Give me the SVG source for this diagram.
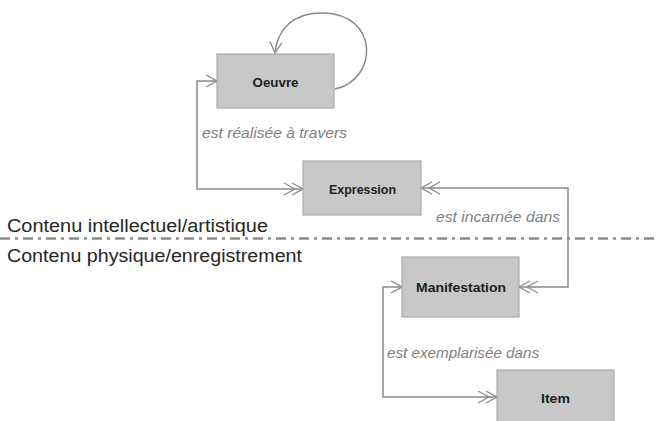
<svg xmlns="http://www.w3.org/2000/svg" width="658" height="421" viewBox="0 0 658 421">
<style>
.box{fill:#c8c8c8;stroke:#ababab;stroke-width:1.2}
.nt{font-family:"Liberation Sans",Arial,sans-serif;font-weight:bold;font-size:13.5px;fill:#1e1e1e;text-anchor:middle}
.lbl{font-family:"Liberation Sans",Arial,sans-serif;font-style:italic;font-size:15.5px;fill:#808080}
.sec{font-family:"Liberation Sans",Arial,sans-serif;font-size:18px;fill:#262626}
.con{fill:none;stroke:#8a8a8a;stroke-width:1.5}
</style>
<defs>
<marker id="a1" markerUnits="userSpaceOnUse" viewBox="-1 -1 13 14" refX="11" refY="6" markerWidth="13" markerHeight="14" orient="auto-start-reverse">
<path d="M0,0 L11,6 L0,12" fill="none" stroke="#8a8a8a" stroke-width="1.3"/>
</marker>
<marker id="a2" markerUnits="userSpaceOnUse" viewBox="-1 -1 21 14" refX="19" refY="6" markerWidth="21" markerHeight="14" orient="auto-start-reverse">
<path d="M0,0 L11,6 L0,12 M8,0 L19,6 L8,12" fill="none" stroke="#8a8a8a" stroke-width="1.3"/>
</marker>
</defs>
<line x1="0" y1="238.5" x2="658" y2="238.5" stroke="#8a8a8a" stroke-width="2.5" stroke-dasharray="10 5 3 5"/>
<text class="sec" x="7" y="232" textLength="261" lengthAdjust="spacingAndGlyphs">Contenu intellectuel/artistique</text>
<text class="sec" x="7" y="262" textLength="295" lengthAdjust="spacingAndGlyphs">Contenu physique/enregistrement</text>
<g id="connectors">
<path class="con" d="M335,89 C378,80 380,14 323,13 C293,12 277,30 275,53" marker-end="url(#a1)"/>
<path class="con" d="M217,81 L197,81 L197,189 L303,189" marker-start="url(#a1)" marker-end="url(#a2)"/>
<path class="con" d="M421,188 L568,188 L568,287 L519,287" marker-start="url(#a2)" marker-end="url(#a2)"/>
<path class="con" d="M402,287 L383,287 L383,397 L497,397" marker-start="url(#a1)" marker-end="url(#a2)"/>
<text class="lbl" x="202" y="138" textLength="145" lengthAdjust="spacingAndGlyphs">est réalisée à travers</text>
<text class="lbl" x="436" y="222" textLength="124" lengthAdjust="spacingAndGlyphs">est incarnée dans</text>
<text class="lbl" x="387" y="358" textLength="152" lengthAdjust="spacingAndGlyphs">est exemplarisée dans</text>
</g>
<g id="oeuvre"><rect class="box" x="217" y="54" width="117" height="54"/><text class="nt" x="275.5" y="87" textLength="46" lengthAdjust="spacingAndGlyphs">Oeuvre</text></g>
<g id="expression"><rect class="box" x="303" y="161" width="118" height="54"/><text class="nt" x="362.5" y="194" textLength="67" lengthAdjust="spacingAndGlyphs">Expression</text></g>
<g id="manifestation"><rect class="box" x="402" y="257" width="117" height="60"/><text class="nt" x="461" y="292" textLength="90" lengthAdjust="spacingAndGlyphs">Manifestation</text></g>
<g id="item"><rect class="box" x="497" y="370" width="117" height="56"/><text class="nt" x="555.5" y="403" textLength="29" lengthAdjust="spacingAndGlyphs">Item</text></g>
</svg>
